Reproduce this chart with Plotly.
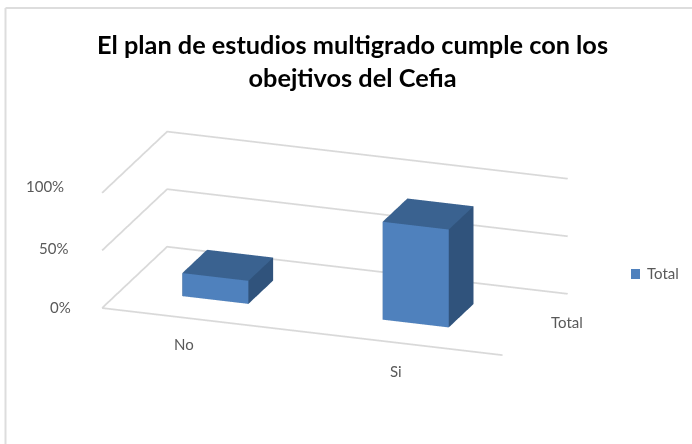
import plotly.graph_objects as go

categories = ["No", "Si"]
series_name = "Total"
values = [0.20, 0.85]
y_ticks = [0, 0.5, 1.0]
y_labels = ["0%", "50%", "100%"]

GRID = "#D9D9D9"
TXT = "#595959"
FRONT, TOP, SIDE, = "#4F81BD", "#3A6290", "#30537C"
fig = go.Figure()


def box(i, v):
    x0, x1 = i + 0.30, i + 0.63
    y0, y1 = 0.31, 0.69
    xs = [x0, x1, x1, x0, x0, x1, x1, x0]
    ys = [y0, y0, y1, y1, y0, y0, y1, y1]
    zs = [0, 0, 0, 0, v, v, v, v]
    I = [0, 0, 4, 4, 0, 0, 1, 1, 2, 2, 3, 3]
    J = [1, 2, 5, 6, 1, 5, 2, 6, 3, 7, 0, 4]
    K = [2, 3, 6, 7, 5, 4, 6, 5, 7, 6, 4, 7]
    colors = [TOP, TOP, TOP, TOP, FRONT, FRONT, SIDE, SIDE, SIDE, SIDE, SIDE, SIDE]
    return go.Mesh3d(x=xs, y=ys, z=zs, i=I, j=J, k=K, facecolor=colors, flatshading=True,
                     lighting=dict(ambient=1, diffuse=0, specular=0, fresnel=0),
                     showscale=False, hoverinfo="skip", showlegend=False)


for n, v in enumerate(values):
    fig.add_trace(box(n, v))

line = dict(color=GRID, width=3.5)
for t in y_ticks:
    fig.add_trace(go.Scatter3d(x=[0, 0, 2], y=[0, 1, 1], z=[t, t, t], mode="lines", line=line,
                               showlegend=False, hoverinfo="skip"))
fig.add_trace(go.Scatter3d(x=[0, 2], y=[0, 0], z=[0, 0], mode="lines", line=line,
                           showlegend=False, hoverinfo="skip"))

fnt = dict(family="Lato", size=15, color=TXT)


def label(text, px, py, anchor="center"):
    return dict(text=text, x=px / 692, y=1 - py / 444, xref="paper", yref="paper", showarrow=False,
                xanchor=anchor, yanchor="middle", font=fnt)


annotations = [label(t, p, q, "right") for t, p, q in zip(y_labels, [73, 70, 66], [307, 248, 186])]
annotations += [label(c, p, q) for c, p, q in zip(categories, [184, 396], [344, 371])]
annotations += [label(series_name, 549, 322, "left"), label(series_name, 645, 273, "left")]

fig.update_layout(
    width=692, height=444, margin=dict(l=0, r=0, t=0, b=0), paper_bgcolor="white",
    showlegend=False,
    scene=dict(
        domain=dict(x=[0, 1], y=[0, 1]),
        xaxis=dict(visible=False, range=[0, 2]),
        yaxis=dict(visible=False, range=[0, 1]),
        zaxis=dict(visible=False, range=[0, 1]),
        aspectmode="manual", aspectratio=dict(x=1.914, y=0.88, z=0.55),
        camera=dict(eye=dict(x=1.07, y=-2.879, z=1.186), up=dict(x=0, y=0, z=1),
                    center=dict(x=0.047, y=0.017, z=0.102),
                    projection=dict(type="orthographic")),
    ),
    title=dict(text="El plan de estudios multigrado cumple con los<br>obejtivos del Cefia",
               x=352.5 / 692, xref="paper", xanchor="center", y=0.878, yanchor="bottom",
               font=dict(family="Lato", size=25.3, color="black", weight=700)),
    annotations=annotations,
    shapes=[
        dict(type="line", xref="paper", yref="paper", x0=5.5 / 692, x1=5.5 / 692, y0=0, y1=1 - 8 / 444,
             line=dict(color="#DDDDDD", width=2)),
        dict(type="line", xref="paper", yref="paper", x0=5.5 / 692, x1=1, y0=1 - 8 / 444, y1=1 - 8 / 444,
             line=dict(color="#DDDDDD", width=2)),
        dict(type="rect", xref="paper", yref="paper", x0=631 / 692, x1=640 / 692, y0=1 - 279 / 444, y1=1 - 269 / 444,
             fillcolor=FRONT, line=dict(width=0)),
    ],
)
fig.write_html("out.html", post_script="document.body.style.margin='0';", config=dict(displayModeBar=False))
